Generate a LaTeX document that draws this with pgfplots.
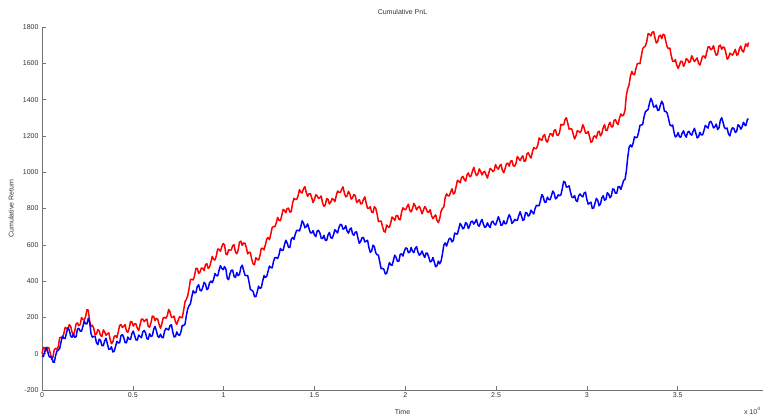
\documentclass[border=0pt]{standalone}
\usepackage{pgfplots}
\pgfplotsset{compat=1.18}
\usepackage{fontspec}
\setmainfont{Liberation Sans}
\begin{document}
\fontsize{7bp}{8bp}\selectfont
\begin{tikzpicture}
\begin{axis}[
  scale only axis, width=721bp, height=363bp,
  xmin=0, xmax=3.97, ymin=-200, ymax=1800,
  clip=false,
  axis lines=left,
  axis line style={-, draw=black!55, line width=0.9pt},
  tick style={draw=black!55, line width=0.6pt},
  tick align=inside, major tick length=4bp,
  xtick={0,0.5,1,1.5,2,2.5,3,3.5},
  xticklabels={0,0.5,1,1.5,2,2.5,3,3.5},
  ytick={-200,0,200,400,600,800,1000,1200,1400,1600,1800},
  yticklabels={-200,0,200,400,600,800,1000,1200,1400,1600,1800},
  tick label style={font=\fontsize{7bp}{8bp}\selectfont, text=black!80},
  yticklabel style={xshift=-1bp},
  xticklabel style={yshift=-0.5bp},
  /pgf/number format/assume math mode=true,
]
\addplot[red, line width=1.5pt, line join=round] coordinates {
(0.00,0) (0.0075,35) (0.015,30) (0.0225,15) (0.03,35) (0.0375,32) (0.045,5) (0.0525,-30) (0.06,-20) (0.0675,21) (0.075,30) (0.0825,25) (0.09,40) (0.0975,89) (0.105,90) (0.1125,86) (0.12,110) (0.1275,145) (0.135,140) (0.1425,132) (0.15,160) (0.1575,152) (0.165,120) (0.1725,100) (0.18,125) (0.1875,163) (0.195,170) (0.2025,155) (0.21,160) (0.2175,199) (0.225,190) (0.2325,184) (0.24,205) (0.2475,242) (0.255,240) (0.2625,177) (0.27,150) (0.2775,157) (0.285,140) (0.2925,103) (0.30,110) (0.3075,133) (0.315,125) (0.3225,100) (0.33,95) (0.3375,131) (0.345,120) (0.3525,101) (0.36,110) (0.3675,115) (0.375,80) (0.3825,55) (0.39,65) (0.3975,95) (0.405,100) (0.4125,88) (0.42,120) (0.4275,156) (0.435,160) (0.4425,145) (0.45,150) (0.4575,161) (0.465,125) (0.4725,118) (0.48,140) (0.4875,177) (0.495,175) (0.5025,152) (0.51,165) (0.5175,164) (0.525,140) (0.5325,128) (0.54,160) (0.5475,191) (0.555,190) (0.5625,177) (0.57,185) (0.5775,191) (0.585,150) (0.5925,146) (0.60,170) (0.6075,207) (0.615,205) (0.6225,182) (0.63,195) (0.6375,189) (0.645,160) (0.6525,140) (0.66,165) (0.6675,198) (0.675,200) (0.6825,195) (0.69,210) (0.6975,244) (0.705,230) (0.7125,201) (0.72,200) (0.7275,207) (0.735,175) (0.7425,162) (0.75,185) (0.7575,204) (0.765,200) (0.7725,198) (0.78,240) (0.7875,286) (0.795,300) (0.8025,320) (0.81,360) (0.8175,409) (0.825,410) (0.8325,406) (0.84,430) (0.8475,470) (0.855,470) (0.8625,442) (0.87,450) (0.8775,472) (0.885,470) (0.8925,458) (0.90,490) (0.9075,496) (0.915,470) (0.9225,477) (0.93,505) (0.9375,536) (0.945,520) (0.9525,516) (0.96,540) (0.9675,577) (0.975,575) (0.9825,564) (0.99,590) (0.9975,607) (1.005,600) (1.0125,550) (1.02,545) (1.0275,573) (1.035,570) (1.0425,572) (1.05,595) (1.0575,601) (1.065,560) (1.0725,551) (1.08,570) (1.0875,615) (1.095,620) (1.1025,597) (1.11,610) (1.1175,609) (1.125,585) (1.1325,550) (1.14,560) (1.1475,556) (1.155,520) (1.1625,495) (1.17,490) (1.1775,529) (1.185,520) (1.1925,516) (1.20,540) (1.2075,580) (1.215,580) (1.2225,572) (1.23,600) (1.2375,632) (1.245,640) (1.2525,628) (1.26,660) (1.2675,696) (1.275,700) (1.2825,700) (1.29,720) (1.2975,751) (1.305,735) (1.3125,733) (1.32,760) (1.3275,795) (1.335,790) (1.3425,777) (1.35,800) (1.3575,802) (1.365,780) (1.3725,783) (1.38,830) (1.3875,856) (1.395,850) (1.4025,850) (1.41,870) (1.4175,904) (1.425,890) (1.4325,886) (1.44,910) (1.4475,920) (1.455,890) (1.4625,867) (1.47,880) (1.4775,882) (1.485,860) (1.4925,833) (1.50,850) (1.5075,876) (1.515,870) (1.5225,855) (1.53,860) (1.5375,869) (1.545,830) (1.5525,811) (1.56,820) (1.5675,855) (1.575,850) (1.5825,825) (1.59,835) (1.5975,855) (1.605,850) (1.6125,838) (1.62,870) (1.6275,896) (1.635,890) (1.6425,888) (1.65,905) (1.6575,919) (1.665,885) (1.6725,864) (1.68,870) (1.6875,895) (1.695,880) (1.7025,852) (1.71,860) (1.7175,877) (1.725,870) (1.7325,833) (1.74,840) (1.7475,849) (1.755,825) (1.7625,828) (1.77,850) (1.7775,864) (1.785,830) (1.7925,801) (1.80,800) (1.8075,810) (1.815,780) (1.8225,777) (1.83,810) (1.8375,802) (1.845,770) (1.8525,728) (1.86,730) (1.8675,731) (1.875,700) (1.8825,675) (1.89,670) (1.8975,709) (1.905,700) (1.9125,696) (1.92,720) (1.9275,753) (1.935,745) (1.9425,735) (1.95,760) (1.9575,762) (1.965,740) (1.9725,738) (1.98,780) (1.9875,804) (1.995,795) (2.0025,793) (2.01,810) (2.0175,824) (2.025,790) (2.0325,781) (2.04,800) (2.0475,828) (2.055,815) (2.0625,792) (2.07,805) (2.0775,812) (2.085,795) (2.0925,771) (2.10,790) (2.1075,811) (2.115,800) (2.1225,780) (2.13,780) (2.1375,794) (2.145,760) (2.1525,744) (2.16,755) (2.1675,765) (2.175,735) (2.1825,722) (2.19,745) (2.1975,785) (2.205,800) (2.2125,808) (2.22,860) (2.2275,881) (2.235,870) (2.2425,870) (2.25,890) (2.2575,909) (2.265,880) (2.2725,886) (2.28,920) (2.2875,955) (2.295,950) (2.3025,942) (2.31,970) (2.3175,977) (2.325,960) (2.3325,951) (2.34,985) (2.3475,996) (2.355,975) (2.3625,980) (2.37,1005) (2.3775,1027) (2.385,1000) (2.3925,981) (2.40,990) (2.4075,1018) (2.415,1005) (2.4225,985) (2.43,1000) (2.4375,1005) (2.445,985) (2.4525,968) (2.46,995) (2.4675,1021) (2.475,1015) (2.4825,1003) (2.49,1010) (2.4975,1042) (2.505,1025) (2.5125,1016) (2.52,1035) (2.5275,1043) (2.535,1010) (2.5425,997) (2.55,1020) (2.5575,1047) (2.565,1050) (2.5725,1033) (2.58,1060) (2.5875,1064) (2.595,1035) (2.6025,1033) (2.61,1050) (2.6175,1087) (2.625,1075) (2.6325,1064) (2.64,1080) (2.6475,1090) (2.655,1060) (2.6625,1062) (2.67,1100) (2.6775,1107) (2.685,1090) (2.6925,1078) (2.70,1110) (2.7075,1136) (2.715,1130) (2.7225,1130) (2.73,1150) (2.7375,1189) (2.745,1180) (2.7525,1176) (2.76,1200) (2.7675,1208) (2.775,1175) (2.7825,1165) (2.79,1190) (2.7975,1212) (2.805,1210) (2.8125,1198) (2.82,1230) (2.8275,1234) (2.835,1205) (2.8425,1203) (2.85,1220) (2.8575,1264) (2.865,1260) (2.8725,1261) (2.88,1290) (2.8875,1300) (2.895,1270) (2.9025,1237) (2.91,1240) (2.9175,1237) (2.925,1210) (2.9325,1183) (2.94,1200) (2.9475,1229) (2.955,1225) (2.9625,1218) (2.97,1230) (2.9775,1262) (2.985,1245) (2.9925,1216) (3.00,1215) (3.0075,1225) (3.015,1195) (3.0225,1165) (3.03,1170) (3.0375,1197) (3.045,1200) (3.0525,1188) (3.06,1220) (3.0675,1226) (3.075,1200) (3.0825,1213) (3.09,1245) (3.0975,1262) (3.105,1230) (3.1125,1231) (3.12,1260) (3.1275,1275) (3.135,1250) (3.1425,1250) (3.15,1285) (3.1575,1290) (3.165,1270) (3.1725,1263) (3.18,1300) (3.1875,1321) (3.195,1310) (3.2025,1315) (3.21,1340) (3.2175,1424) (3.225,1460) (3.2325,1481) (3.24,1530) (3.2475,1555) (3.255,1540) (3.2625,1537) (3.27,1570) (3.2775,1597) (3.285,1600) (3.2925,1598) (3.30,1640) (3.3075,1681) (3.315,1690) (3.3225,1695) (3.33,1720) (3.3375,1764) (3.345,1760) (3.3525,1751) (3.36,1770) (3.3675,1775) (3.375,1740) (3.3825,1712) (3.39,1720) (3.3975,1750) (3.405,1755) (3.4125,1736) (3.42,1760) (3.4275,1756) (3.435,1720) (3.4425,1690) (3.45,1680) (3.4575,1684) (3.465,1640) (3.4725,1611) (3.48,1610) (3.4875,1620) (3.495,1590) (3.5025,1572) (3.51,1590) (3.5175,1612) (3.525,1610) (3.5325,1583) (3.54,1600) (3.5475,1626) (3.555,1620) (3.5625,1605) (3.57,1610) (3.5775,1642) (3.585,1625) (3.5925,1609) (3.60,1620) (3.6075,1630) (3.615,1600) (3.6225,1590) (3.63,1615) (3.6375,1640) (3.645,1640) (3.6525,1628) (3.66,1660) (3.6675,1691) (3.675,1690) (3.6825,1675) (3.69,1680) (3.6975,1697) (3.705,1665) (3.7125,1644) (3.72,1650) (3.7275,1695) (3.735,1700) (3.7425,1677) (3.75,1690) (3.7575,1687) (3.765,1660) (3.7725,1623) (3.78,1630) (3.7875,1656) (3.795,1650) (3.8025,1645) (3.81,1660) (3.8175,1677) (3.825,1645) (3.8325,1649) (3.84,1680) (3.8475,1695) (3.855,1670) (3.8625,1662) (3.87,1690) (3.875,1707) (3.88,1700) (3.885,1692) (3.89,1715)
};
\addplot[blue, line width=1.5pt, line join=round] coordinates {
(0.00,-10) (0.0075,-16) (0.015,10) (0.0225,35) (0.03,20) (0.0375,-12) (0.045,-20) (0.0525,-15) (0.06,-45) (0.0675,-48) (0.075,-10) (0.0825,15) (0.09,20) (0.0975,29) (0.105,65) (0.1125,97) (0.12,85) (0.1275,84) (0.135,115) (0.1425,143) (0.15,130) (0.1575,98) (0.165,90) (0.1725,108) (0.18,90) (0.1875,93) (0.195,135) (0.2025,140) (0.21,125) (0.2175,124) (0.225,150) (0.2325,180) (0.24,165) (0.2475,164) (0.255,195) (0.2625,173) (0.27,110) (0.2775,91) (0.285,95) (0.2925,96) (0.30,60) (0.3075,50) (0.315,80) (0.3225,73) (0.33,45) (0.3375,44) (0.345,70) (0.3525,85) (0.36,55) (0.3675,24) (0.375,25) (0.3825,38) (0.39,10) (0.3975,13) (0.405,40) (0.4125,68) (0.42,60) (0.4275,60) (0.435,100) (0.4425,105) (0.45,90) (0.4575,61) (0.465,60) (0.4725,92) (0.48,80) (0.4875,79) (0.495,110) (0.5025,125) (0.51,100) (0.5175,76) (0.525,75) (0.5325,103) (0.54,95) (0.5475,88) (0.555,120) (0.5625,128) (0.57,115) (0.5775,84) (0.585,80) (0.5925,110) (0.60,95) (0.6075,99) (0.615,135) (0.6225,150) (0.63,125) (0.6375,96) (0.645,90) (0.6525,108) (0.66,90) (0.6675,88) (0.675,125) (0.6825,140) (0.69,135) (0.6975,131) (0.705,155) (0.7125,160) (0.72,120) (0.7275,92) (0.735,95) (0.7425,120) (0.75,105) (0.7575,101) (0.765,120) (0.7725,156) (0.78,155) (0.7875,163) (0.795,210) (0.8025,248) (0.81,265) (0.8175,276) (0.825,315) (0.8325,347) (0.84,335) (0.8475,337) (0.855,370) (0.8625,380) (0.87,350) (0.8775,346) (0.885,365) (0.8925,393) (0.90,385) (0.9075,353) (0.915,360) (0.9225,390) (0.93,400) (0.9375,391) (0.945,410) (0.9525,442) (0.96,430) (0.9675,429) (0.975,460) (0.9825,485) (0.99,470) (0.9975,463) (1.005,480) (1.0125,466) (1.02,415) (1.0275,408) (1.035,440) (1.0425,460) (1.05,460) (1.0575,426) (1.065,420) (1.0725,447) (1.08,430) (1.0875,437) (1.095,475) (1.1025,488) (1.11,460) (1.1175,433) (1.125,430) (1.1325,431) (1.14,395) (1.1475,353) (1.155,350) (1.1625,343) (1.17,315) (1.1775,314) (1.185,340) (1.1925,372) (1.20,360) (1.2075,364) (1.215,400) (1.2225,430) (1.23,420) (1.2375,426) (1.245,455) (1.2525,483) (1.26,475) (1.2675,473) (1.275,510) (1.2825,530) (1.29,530) (1.2975,524) (1.305,545) (1.3125,580) (1.32,570) (1.3275,569) (1.335,600) (1.3425,625) (1.35,610) (1.3575,586) (1.365,585) (1.3725,631) (1.38,640) (1.3875,630) (1.395,660) (1.4025,680) (1.41,680) (1.4175,676) (1.425,700) (1.4325,732) (1.44,720) (1.4475,694) (1.455,700) (1.4625,715) (1.47,690) (1.4775,666) (1.485,665) (1.4925,678) (1.50,655) (1.5075,645) (1.515,675) (1.5225,680) (1.53,665) (1.5375,636) (1.545,635) (1.5525,652) (1.56,625) (1.5675,624) (1.575,655) (1.5825,668) (1.59,640) (1.5975,636) (1.605,655) (1.6125,683) (1.62,675) (1.6275,665) (1.635,695) (1.6425,713) (1.65,710) (1.6575,686) (1.665,690) (1.6725,705) (1.68,675) (1.6875,664) (1.695,685) (1.7025,693) (1.71,660) (1.7175,653) (1.725,670) (1.7325,671) (1.74,635) (1.7475,608) (1.755,620) (1.7625,640) (1.77,640) (1.7775,616) (1.785,620) (1.7925,625) (1.80,585) (1.8075,559) (1.815,565) (1.8225,598) (1.83,590) (1.8375,556) (1.845,545) (1.8525,543) (1.86,505) (1.8675,468) (1.875,470) (1.8825,465) (1.89,440) (1.8975,441) (1.905,470) (1.9125,502) (1.92,490) (1.9275,487) (1.935,515) (1.9425,543) (1.95,530) (1.9575,508) (1.965,510) (1.9725,548) (1.98,550) (1.9875,538) (1.995,565) (2.0025,583) (2.01,580) (2.0175,556) (2.025,560) (2.0325,585) (2.04,565) (2.0475,557) (2.055,580) (2.0625,590) (2.07,560) (2.0775,543) (2.085,550) (2.0925,566) (2.10,545) (2.1075,530) (2.115,555) (2.1225,553) (2.13,530) (2.1375,506) (2.145,510) (2.1525,530) (2.16,505) (2.1675,479) (2.175,485) (2.1825,510) (2.19,495) (2.1975,511) (2.205,550) (2.2125,598) (2.22,610) (2.2275,593) (2.235,615) (2.2425,635) (2.25,635) (2.2575,616) (2.265,625) (2.2725,665) (2.28,660) (2.2875,659) (2.295,690) (2.3025,718) (2.31,705) (2.3175,688) (2.325,695) (2.3325,723) (2.34,715) (2.3475,690) (2.355,705) (2.3625,728) (2.37,730) (2.3775,714) (2.385,725) (2.3925,740) (2.40,710) (2.4075,702) (2.415,725) (2.4225,740) (2.43,715) (2.4375,696) (2.445,700) (2.4525,721) (2.46,705) (2.4675,695) (2.475,725) (2.4825,730) (2.49,715) (2.4975,709) (2.505,730) (2.5125,755) (2.52,735) (2.5275,707) (2.535,710) (2.5425,733) (2.55,715) (2.5575,718) (2.565,745) (2.5725,766) (2.58,750) (2.5875,718) (2.595,725) (2.6025,740) (2.61,735) (2.6175,734) (2.625,760) (2.6325,782) (2.64,760) (2.6475,734) (2.655,740) (2.6625,778) (2.67,775) (2.6775,758) (2.685,765) (2.6925,791) (2.70,780) (2.7075,770) (2.715,800) (2.7225,818) (2.73,815) (2.7375,816) (2.745,845) (2.7525,877) (2.76,865) (2.7675,834) (2.775,835) (2.7825,863) (2.79,850) (2.7975,848) (2.805,870) (2.8125,896) (2.82,885) (2.8275,853) (2.835,860) (2.8425,875) (2.85,870) (2.8575,876) (2.865,910) (2.8725,950) (2.88,945) (2.8875,917) (2.895,920) (2.9025,925) (2.91,890) (2.9175,863) (2.925,860) (2.9325,871) (2.94,845) (2.9475,838) (2.955,870) (2.9625,880) (2.97,870) (2.9775,864) (2.985,885) (2.9925,890) (3.00,850) (3.0075,824) (3.015,830) (3.0225,835) (3.03,800) (3.0375,803) (3.045,830) (3.0525,856) (3.06,845) (3.0675,815) (3.075,825) (3.0825,858) (3.09,870) (3.0975,846) (3.105,850) (3.1125,887) (3.12,880) (3.1275,859) (3.135,870) (3.1425,908) (3.15,905) (3.1575,883) (3.165,885) (3.1725,921) (3.18,920) (3.1875,905) (3.195,930) (3.2025,955) (3.21,960) (3.2175,1006) (3.225,1080) (3.2325,1137) (3.24,1150) (3.2475,1139) (3.255,1160) (3.2625,1195) (3.27,1190) (3.2775,1193) (3.285,1220) (3.2925,1258) (3.30,1260) (3.3075,1263) (3.315,1305) (3.3225,1333) (3.33,1340) (3.3375,1346) (3.345,1380) (3.3525,1407) (3.36,1390) (3.3675,1359) (3.375,1360) (3.3825,1370) (3.39,1340) (3.3975,1343) (3.405,1370) (3.4125,1391) (3.42,1375) (3.4275,1335) (3.435,1335) (3.4425,1325) (3.45,1295) (3.4575,1261) (3.465,1255) (3.4725,1260) (3.48,1220) (3.4875,1194) (3.495,1200) (3.5025,1218) (3.51,1195) (3.5175,1193) (3.525,1215) (3.5325,1228) (3.54,1205) (3.5475,1193) (3.555,1220) (3.5625,1225) (3.57,1210) (3.5775,1204) (3.585,1225) (3.5925,1242) (3.60,1215) (3.6075,1189) (3.615,1195) (3.6225,1220) (3.63,1205) (3.6375,1206) (3.645,1230) (3.6525,1258) (3.66,1250) (3.6675,1243) (3.675,1275) (3.6825,1280) (3.69,1265) (3.6975,1244) (3.705,1250) (3.7125,1265) (3.72,1235) (3.7275,1244) (3.735,1285) (3.7425,1300) (3.75,1275) (3.7575,1246) (3.765,1240) (3.7725,1243) (3.78,1210) (3.7875,1200) (3.795,1230) (3.8025,1245) (3.81,1240) (3.8175,1219) (3.825,1225) (3.8325,1262) (3.84,1255) (3.8475,1237) (3.855,1250) (3.8625,1275) (3.87,1260) (3.875,1256) (3.88,1275) (3.885,1293) (3.89,1290)
};
\coordinate (ll) at (rel axis cs:0,0);
\coordinate (ur) at (rel axis cs:1,1);
\node[anchor=base, text=black!80] at ([yshift=12bp]rel axis cs:0.5,1) {Cumulative PnL};
\node[anchor=base, text=black!80] at ([yshift=-24bp]rel axis cs:0.5,0) {Time};
\node[anchor=base east, text=black!80] at ([yshift=-24bp]rel axis cs:1,0) {x 10\textsuperscript{4}};
\node[rotate=90, anchor=center, text=black!80] at ([xshift=-31bp]rel axis cs:0,0.5) {Cumulative Return};
\end{axis}
\pgfresetboundingbox
\path ([xshift=-42bp,yshift=-28bp]ll) rectangle ([yshift=27bp]ur);
\end{tikzpicture}
\end{document}
